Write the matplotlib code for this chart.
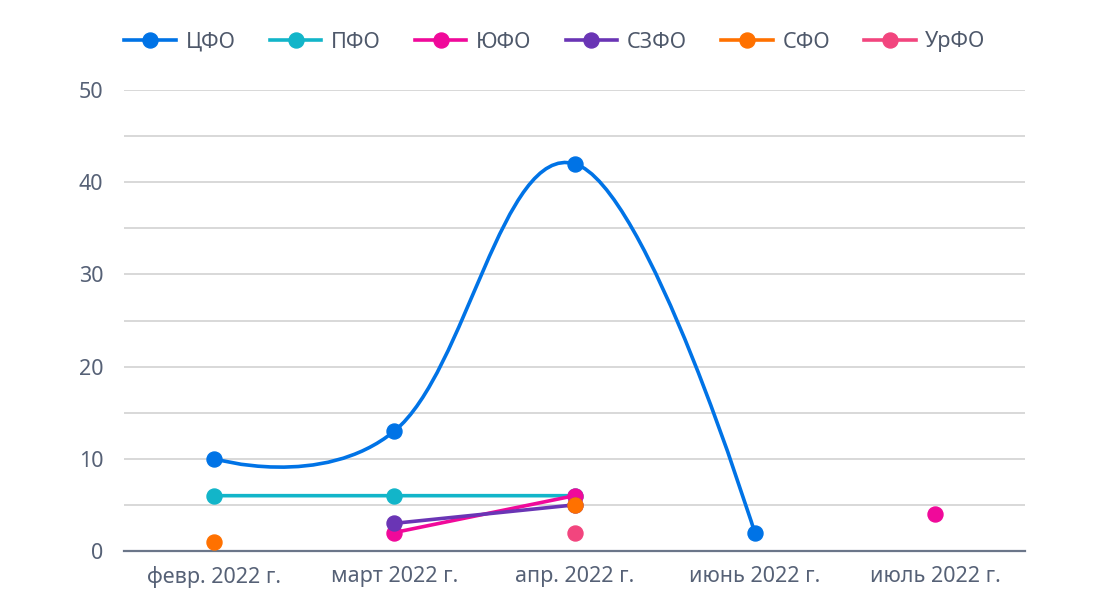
import numpy as np
import matplotlib
matplotlib.use("Agg")
import matplotlib.pyplot as plt
from matplotlib.path import Path
from matplotlib.patches import PathPatch
from matplotlib.lines import Line2D

plt.rcParams['font.family'] = ['Noto Sans', 'DejaVu Sans']

months = ["февр. 2022 г.", "март 2022 г.", "апр. 2022 г.", "июнь 2022 г.", "июль 2022 г."]
nan = np.nan
cfo = [10, 13, 42, 2, nan]
pfo = [6, 6, 6, nan, nan]
yufo = [nan, 2, 6, nan, 4]
szfo = [nan, 3, 5, nan, nan]
sfo = [1, nan, 5, nan, nan]
urfo = [nan, nan, 2, nan, nan]

names = ["ЦФО", "ПФО", "ЮФО", "СЗФО", "СФО", "УрФО"]
series = [cfo, pfo, yufo, szfo, sfo, urfo]
colors = ["#0073e6", "#12b5c9", "#f0099a", "#6a35b5", "#ff7100", "#f2457e"]


def spline_path(xs, ys, smoothing=1.5):
    # highcharts-like spline through one unbroken run of points
    n = len(xs)
    verts = [(xs[0], ys[0])]
    codes = [Path.MOVETO]
    left = [None] * n
    right = [None] * n
    denom = smoothing + 1
    for i in range(1, n - 1):
        lx = (smoothing * xs[i] + xs[i - 1]) / denom
        ly = (smoothing * ys[i] + ys[i - 1]) / denom
        rx = (smoothing * xs[i] + xs[i + 1]) / denom
        ry = (smoothing * ys[i] + ys[i + 1]) / denom
        corr = (ry - ly) * (rx - xs[i]) / (rx - lx) + ys[i] - ry
        left[i] = (lx, ly + corr)
        right[i] = (rx, ry + corr)
    for i in range(1, n):
        c1 = right[i - 1] if right[i - 1] else (xs[i - 1], ys[i - 1])
        c2 = left[i] if left[i] else (xs[i], ys[i])
        verts += [c1, c2, (xs[i], ys[i])]
        codes += [Path.CURVE4] * 3
    return Path(verts, codes)


fig = plt.figure(figsize=(11.1, 6.12), dpi=100)
ax = fig.add_axes([124 / 1110, 61 / 612, 901 / 1110, 461 / 612])

x = np.arange(len(months))
for k, (vals, col) in enumerate(zip(series, colors)):
    vals = np.array(vals, dtype=float)
    ok = ~np.isnan(vals)
    # split into runs of consecutive points
    run = []
    for i in range(len(vals) + 1):
        if i < len(vals) and ok[i]:
            run.append(i)
        else:
            if len(run) > 1:
                p = spline_path(x[run].astype(float), vals[run])
                ax.add_patch(PathPatch(p, fill=False, edgecolor=col, lw=2.6,
                                       zorder=3 + k, capstyle='round'))
            run = []
    ax.plot(x[ok], vals[ok], 'o', color=col, ms=10.8, zorder=3.5 + k, clip_on=False)

ax.set_xlim(-0.5, len(months) - 0.5)
ax.set_ylim(0, 50)
ax.set_yticks(np.arange(0, 51, 10))
ax.set_yticks(np.arange(0, 51, 5), minor=True)
ax.set_xticks(x)
ax.set_xticklabels(months)
ax.grid(axis='y', which='both', color='#d6d6d6', lw=1.3)
ax.set_axisbelow(True)
for s in ['top', 'right', 'left']:
    ax.spines[s].set_visible(False)
ax.spines['bottom'].set_color('#6b7689')
ax.spines['bottom'].set_linewidth(1.6)
ax.spines['bottom'].set_zorder(2.5)
ax.tick_params(axis='both', which='both', length=0, labelsize=15.5, colors='#566176')
ax.tick_params(axis='y', pad=15)
ax.tick_params(axis='x', pad=11)

handles = [Line2D([0], [0], color=c, lw=2.6, marker='o', ms=10.8) for c in colors]
fig.legend(handles, names, loc='center', bbox_to_anchor=(0.5, 1 - 42 / 612), ncol=6,
           frameon=False, fontsize=15.5, labelcolor='#4e586a', handlelength=2.4,
           handletextpad=0.45, columnspacing=1.58)

fig.savefig("out.png", dpi=100)
